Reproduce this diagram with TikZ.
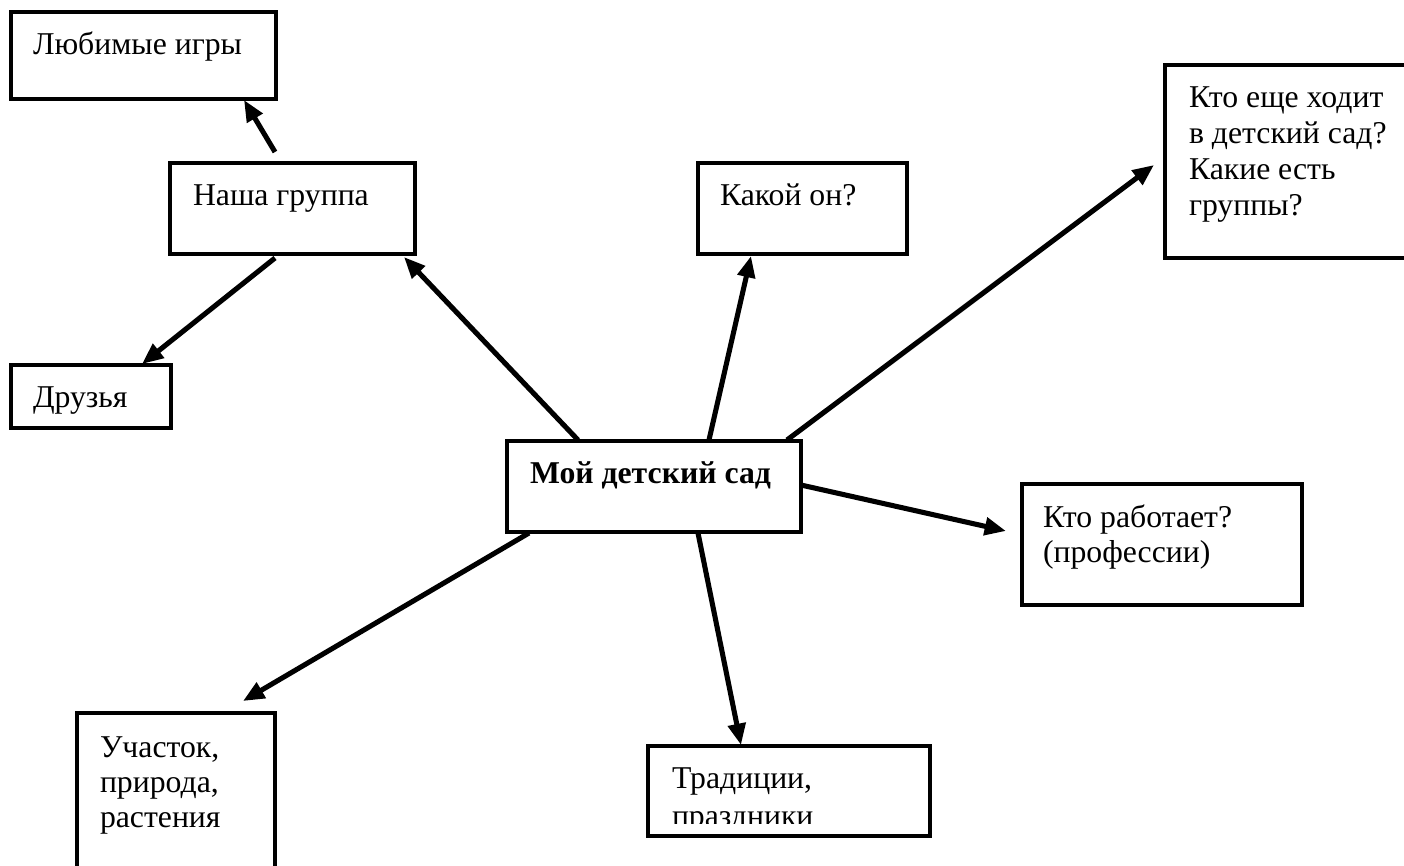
\documentclass[tikz,border=0pt]{standalone}
\usepackage{fontspec}
\setmainfont{Liberation Serif}
\usetikzlibrary{arrows.meta,calc}
\tikzset{
  box/.style={draw, line width=2.5pt, rectangle, inner sep=0pt, outer sep=0pt, anchor=north west},
  lbl/.style={anchor=base west, inner sep=0pt, outer sep=0pt, align=left, font=\fontsize{23.8pt}{27pt}\selectfont},
  arr/.style={line width=3.8pt, -{Triangle[length=16pt,width=13pt]}}
}
\begin{document}
\begin{tikzpicture}[x=0.75pt,y=-0.75pt]
\useasboundingbox (0,0) rectangle (1404,865);
\clip (0,0) rectangle (1404,865);
\fill[white] (0,0) rectangle (1404,865);
% boxes
\node[box, minimum width=198.75pt, minimum height=65.25pt] (games) at (11,12) {};
\node[box, minimum width=183.75pt, minimum height=68.25pt] (group) at (170,163) {};
\node[box, minimum width=120pt, minimum height=47.25pt] (friends) at (11,365) {};
\node[box, minimum width=220.5pt, minimum height=68.25pt] (main) at (507,441) {};
\node[box, minimum width=156.75pt, minimum height=68.25pt] (what) at (698,163) {};
\node[box, minimum width=191.25pt, minimum height=144.75pt] (who) at (1165,65) {};
\node[box, minimum width=210pt, minimum height=90.75pt] (work) at (1022,484) {};
\node[box, minimum width=148.5pt, minimum height=150pt] (site) at (77,713) {};
\node[box, minimum width=211.5pt, minimum height=67.5pt] (trad) at (648,746) {};
% texts (multi-line nodes are placed at the baseline of their last line)
\node[lbl] (gamesT) at (33,54) {Любимые игры};
\node[lbl] (groupT) at (193,205) {Наша группа};
\node[lbl] (friendsT) at (33,407) {Друзья};
\node[lbl, font=\fontsize{23.8pt}{27pt}\selectfont\bfseries] (mainT) at (530,483) {Мой детский сад};
\node[lbl] (whatT) at (720,205) {Какой он?};
\node[lbl] (whoT) at (1189,215) {Кто еще ходит\\в детский сад?\\Какие есть\\группы?};
\node[lbl, font=\fontsize{23.8pt}{26.25pt}\selectfont] (workT) at (1043,562) {Кто работает?\\(профессии)};
\node[lbl, font=\fontsize{23.8pt}{26.25pt}\selectfont] (siteT) at (100,827) {Участок,\\природа,\\растения};
\begin{scope}
\clip (648,746) rectangle (930,823);
\node[lbl, font=\fontsize{23.8pt}{28.5pt}\selectfont] (tradT) at (672,826) {Традиции,\\праздники};
\end{scope}
% arrows
\draw[arr] ($(group.north west)+(105,-11)$) -- ($(games.south west)+(233,1)$);
\draw[arr] ($(group.south west)+(105,4)$) -- ($(friends.north west)+(131,-1)$);
\draw[arr] ($(main.north west)+(71,-1)$) -- ($(group.south east)+(-11,3)$);
\draw[arr] ($(main.north west)+(202,-1)$) -- ($(what.south west)+(53,2)$);
\draw[arr] ($(main.north west)+(280,-1)$) -- ($(who.north west)+(-11,100)$);
\draw[arr] ($(main.north east)+(0,44)$) -- ($(work.north west)+(-16,47)$);
\draw[arr] ($(main.south west)+(191,1)$) -- ($(trad.north west)+(93,-1)$);
\draw[arr] ($(main.south west)+(22,1)$) -- ($(site.north west)+(166,-12)$);
\end{tikzpicture}
\end{document}
